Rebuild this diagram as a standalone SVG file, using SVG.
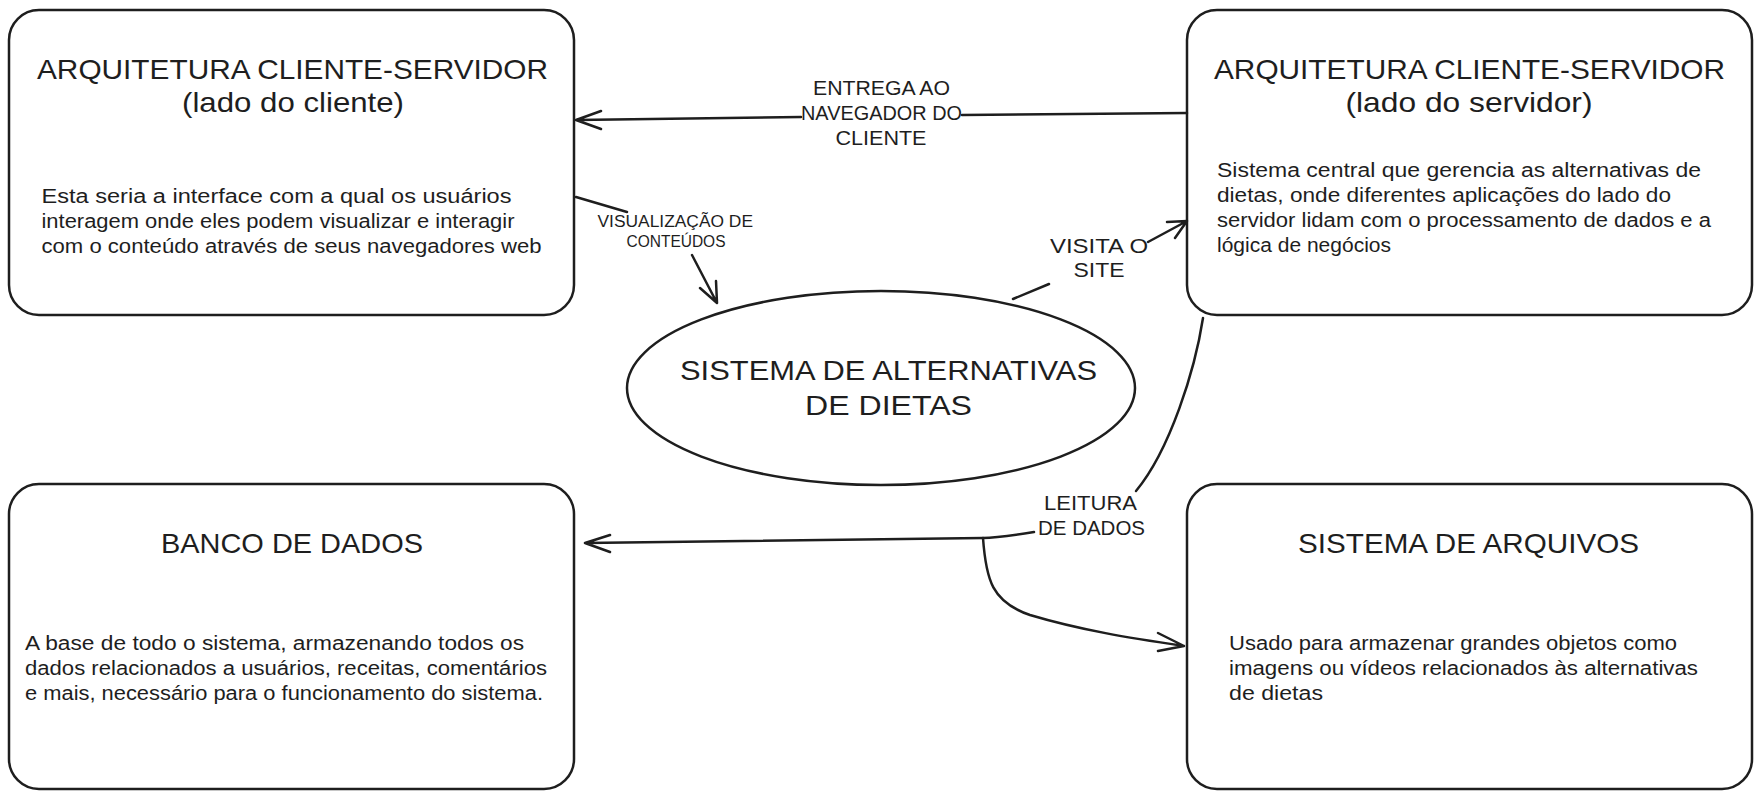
<svg xmlns="http://www.w3.org/2000/svg" width="1761" height="799" viewBox="0 0 1761 799">
<style>
.box{fill:#ffffff;stroke:#1e1e1e;stroke-width:2.5}
.con{fill:none;stroke:#1e1e1e;stroke-width:2.5;stroke-linecap:round;stroke-linejoin:round}
text{font-family:"Liberation Sans",Arial,sans-serif;fill:#1e1e1e}
.t{font-size:28px}
.b{font-size:20px}
.l{font-size:20px}
.s{font-size:16px}
</style>
<rect width="1761" height="799" fill="#ffffff"/>
<g id="cliente">
<rect class="box" x="9" y="10" width="565" height="305" rx="30"/>
<text class="t" x="37" y="79" textLength="511" lengthAdjust="spacingAndGlyphs">ARQUITETURA CLIENTE-SERVIDOR</text>
<text class="t" x="182" y="112" textLength="222" lengthAdjust="spacingAndGlyphs">(lado do cliente)</text>
<text class="b" x="41.5" y="203" textLength="470" lengthAdjust="spacingAndGlyphs">Esta seria a interface com a qual os usuários</text>
<text class="b" x="41.5" y="228" textLength="473" lengthAdjust="spacingAndGlyphs">interagem onde eles podem visualizar e interagir</text>
<text class="b" x="41.5" y="253" textLength="500" lengthAdjust="spacingAndGlyphs">com o conteúdo através de seus navegadores web</text>
</g>
<g id="servidor">
<rect class="box" x="1187" y="10" width="565" height="305" rx="30"/>
<text class="t" x="1214" y="79" textLength="511" lengthAdjust="spacingAndGlyphs">ARQUITETURA CLIENTE-SERVIDOR</text>
<text class="t" x="1345.5" y="112" textLength="247" lengthAdjust="spacingAndGlyphs">(lado do servidor)</text>
<text class="b" x="1217" y="177" textLength="484" lengthAdjust="spacingAndGlyphs">Sistema central que gerencia as alternativas de</text>
<text class="b" x="1217" y="202" textLength="454" lengthAdjust="spacingAndGlyphs">dietas, onde diferentes aplicações do lado do</text>
<text class="b" x="1217" y="227" textLength="494" lengthAdjust="spacingAndGlyphs">servidor lidam com o processamento de dados e a</text>
<text class="b" x="1217" y="252" textLength="174" lengthAdjust="spacingAndGlyphs">lógica de negócios</text>
</g>
<g id="sistema">
<ellipse class="box" cx="881" cy="388" rx="254" ry="97"/>
<text class="t" x="680" y="380" textLength="417" lengthAdjust="spacingAndGlyphs">SISTEMA DE ALTERNATIVAS</text>
<text class="t" x="805" y="415" textLength="167" lengthAdjust="spacingAndGlyphs">DE DIETAS</text>
</g>
<g id="banco">
<rect class="box" x="9" y="484" width="565" height="305" rx="30"/>
<text class="t" x="161" y="553" textLength="262" lengthAdjust="spacingAndGlyphs">BANCO DE DADOS</text>
<text class="b" x="25" y="650" textLength="499" lengthAdjust="spacingAndGlyphs">A base de todo o sistema, armazenando todos os</text>
<text class="b" x="25" y="675" textLength="522" lengthAdjust="spacingAndGlyphs">dados relacionados a usuários, receitas, comentários</text>
<text class="b" x="25" y="700" textLength="518" lengthAdjust="spacingAndGlyphs">e mais, necessário para o funcionamento do sistema.</text>
</g>
<g id="arquivos">
<rect class="box" x="1187" y="484" width="565" height="305" rx="30"/>
<text class="t" x="1298" y="553" textLength="341" lengthAdjust="spacingAndGlyphs">SISTEMA DE ARQUIVOS</text>
<text class="b" x="1229" y="650" textLength="448" lengthAdjust="spacingAndGlyphs">Usado para armazenar grandes objetos como</text>
<text class="b" x="1229" y="675" textLength="469" lengthAdjust="spacingAndGlyphs">imagens ou vídeos relacionados às alternativas</text>
<text class="b" x="1229" y="700" textLength="94" lengthAdjust="spacingAndGlyphs">de dietas</text>
</g>
<g id="connectors">
<path class="con" d="M1187,113 L962,115 M801,117 L576,120 M601,111 L576,120 L601,129"/>
<path class="con" d="M576,197 L627,212 M692,255 L717,303 M700,288 L717,303 L716,281"/>
<path class="con" d="M1013,299 L1049,284 M1148,242 L1187,221 M1167,222 L1187,221 L1175,238"/>
<path class="con" d="M1203,318 C1195,370 1170,450 1136,491"/>
<path class="con" d="M1034,532 C1010,536 995,538 983,538 L585,543 M610,535 L585,543 L610,552"/>
<path class="con" d="M983,538 C986,580 992,602 1030,615 C1080,630 1130,638 1184,646 M1158,633 L1184,646 L1158,651"/>
<text class="l" x="813" y="95" textLength="137" lengthAdjust="spacingAndGlyphs">ENTREGA AO</text>
<text class="l" x="801" y="120" textLength="161" lengthAdjust="spacingAndGlyphs">NAVEGADOR DO</text>
<text class="l" x="835.5" y="145" textLength="91" lengthAdjust="spacingAndGlyphs">CLIENTE</text>
<text class="s" x="597.5" y="227" textLength="155.5" lengthAdjust="spacingAndGlyphs">VISUALIZAÇÃO DE</text>
<text class="s" x="626.5" y="247" textLength="99" lengthAdjust="spacingAndGlyphs">CONTEÚDOS</text>
<text class="l" x="1050" y="253" textLength="98" lengthAdjust="spacingAndGlyphs">VISITA O</text>
<text class="l" x="1073.5" y="277" textLength="51" lengthAdjust="spacingAndGlyphs">SITE</text>
<text class="l" x="1044" y="510" textLength="93" lengthAdjust="spacingAndGlyphs">LEITURA</text>
<text class="l" x="1038" y="535" textLength="107" lengthAdjust="spacingAndGlyphs">DE DADOS</text>
</g>
</svg>
